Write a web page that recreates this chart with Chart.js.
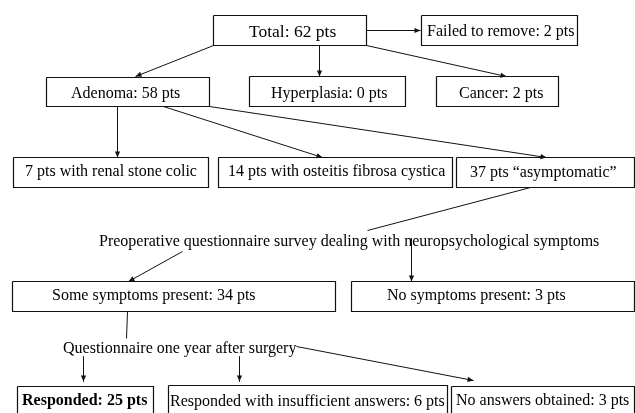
<!DOCTYPE html>
<html>
<head>
<meta charset="utf-8">
<script src="https://cdn.jsdelivr.net/npm/chart.js@4.4.1/dist/chart.umd.min.js"></script>
<style>
  html, body { margin: 0; padding: 0; background: #fff; }
  canvas { display: block; }
</style>
</head>
<body>
<canvas id="flow" width="635" height="413"></canvas>
<script>
// flow nodes: label template ({n} = patients) and patient counts
const nodeLabels = [
  "Total: {n} pts",
  "Failed to remove: {n} pts",
  "Adenoma: {n} pts",
  "Hyperplasia: {n} pts",
  "Cancer: {n} pts",
  "{n} pts with renal stone colic",
  "{n} pts with osteitis fibrosa cystica",
  "{n} pts \u201casymptomatic\u201d",
  "Some symptoms present: {n} pts",
  "No symptoms present: {n} pts",
  "Responded: {n} pts",
  "Responded with insufficient answers: {n} pts",
  "No answers obtained: {n} pts"
];
const patientCounts = [62, 2, 58, 0, 2, 7, 14, 37, 34, 3, 25, 6, 3];
const stepNotes = [
  "Preoperative questionnaire survey dealing with neuropsychological symptoms",
  "Questionnaire one year after surgery"
];

// layout, in axis units (x 0..635, y 0..413 from the top)
const boxLayout = [
  { box: [213, 15, 366, 45], text: [249, 37], size: 17.5 },
  { box: [421, 15, 577, 45], text: [427, 36] },
  { box: [46, 77, 209, 106], text: [71, 98] },
  { box: [249, 76, 405, 106], text: [271, 98] },
  { box: [436, 76, 558, 106], text: [459, 98] },
  { box: [13, 157, 208, 187], text: [25, 176] },
  { box: [218, 157, 452, 187], text: [228, 176] },
  { box: [456, 157, 634, 187], text: [470, 177] },
  { box: [12, 281, 335, 311], text: [52, 300] },
  { box: [351, 281, 634, 311], text: [387, 300] },
  { box: [17, 386, 153, 420], text: [22, 405], bold: true },
  { box: [168, 385, 447, 420], text: [170, 406] },
  { box: [451, 386, 634, 420], text: [456, 405] }
];
const noteLayout = [[99, 246], [63, 353]];
// connectors: from x, from y, to x, to y, arrowhead at the end
const links = [
  [366, 30, 420, 30, true],
  [213, 45, 135, 76, true],
  [319, 45, 319, 76, true],
  [366, 45, 506, 76, true],
  [117, 106, 117, 157, true],
  [163, 106, 322, 157, true],
  [209, 106, 546, 157, true],
  [530, 187, 367, 230, false],
  [182, 251, 128, 281, true],
  [411, 238, 411, 281, true],
  [127, 311, 126, 338, false],
  [83, 356, 83, 381, true],
  [239, 356, 239, 381, true],
  [296, 346, 473, 380, true]
];

const FONT = '"Liberation Serif", "Times New Roman", serif';
const px = v => v + 0.5; // keep 1px strokes on the pixel grid

const datasets = [];
boxLayout.forEach(b => {
  const [x0, y0, x1, y1] = b.box.map(px);
  datasets.push({
    data: [{x: x0, y: y0}, {x: x1, y: y0}, {x: x1, y: y1}, {x: x0, y: y1}, {x: x0, y: y0}],
    borderColor: "#111",
    borderWidth: 1.2,
    arrow: false
  });
});
links.forEach(l => {
  datasets.push({
    data: [{x: px(l[0]), y: px(l[1])}, {x: px(l[2]), y: px(l[3])}],
    borderColor: "#111",
    borderWidth: 1,
    arrow: l[4]
  });
});

const arrowHeads = {
  id: "arrowHeads",
  afterDatasetsDraw(chart) {
    const ctx = chart.ctx;
    chart.data.datasets.forEach((ds, i) => {
      if (!ds.arrow) return;
      const pts = chart.getDatasetMeta(i).data;
      const a = pts[pts.length - 2], b = pts[pts.length - 1];
      const ang = Math.atan2(b.y - a.y, b.x - a.x);
      const len = 6, half = 2.6;
      ctx.save();
      ctx.translate(b.x, b.y);
      ctx.rotate(ang);
      ctx.beginPath();
      ctx.moveTo(0, 0);
      ctx.lineTo(-len, -half);
      ctx.lineTo(-len, half);
      ctx.closePath();
      ctx.fillStyle = "#111";
      ctx.fill();
      ctx.restore();
    });
  }
};

const flowText = {
  id: "flowText",
  afterDraw(chart) {
    const ctx = chart.ctx;
    const xs = chart.scales.x, ys = chart.scales.y;
    ctx.save();
    ctx.fillStyle = "#000";
    ctx.textAlign = "left";
    ctx.textBaseline = "alphabetic";
    nodeLabels.forEach((lab, i) => {
      const lay = boxLayout[i];
      const size = lay.size || 16;
      ctx.font = (lay.bold ? "bold " : "") + size + "px " + FONT;
      const txt = lab.replace("{n}", patientCounts[i]);
      ctx.fillText(txt, xs.getPixelForValue(lay.text[0]), ys.getPixelForValue(lay.text[1]));
    });
    ctx.font = "16px " + FONT;
    stepNotes.forEach((note, i) => {
      ctx.fillText(note, xs.getPixelForValue(noteLayout[i][0]), ys.getPixelForValue(noteLayout[i][1]));
    });
    ctx.restore();
  }
};

new Chart(document.getElementById("flow"), {
  type: "scatter",
  data: { datasets: datasets },
  options: {
    responsive: false,
    animation: false,
    events: [],
    layout: { padding: 0 },
    showLine: true,
    elements: {
      point: { radius: 0, hoverRadius: 0 },
      line: { tension: 0, fill: false }
    },
    datasets: { scatter: { clip: false } },
    scales: {
      x: { type: "linear", min: 0, max: 635, display: false },
      y: { type: "linear", min: 0, max: 413, reverse: true, display: false }
    },
    plugins: {
      legend: { display: false },
      tooltip: { enabled: false }
    }
  },
  plugins: [arrowHeads, flowText]
});
</script>
</body>
</html>
